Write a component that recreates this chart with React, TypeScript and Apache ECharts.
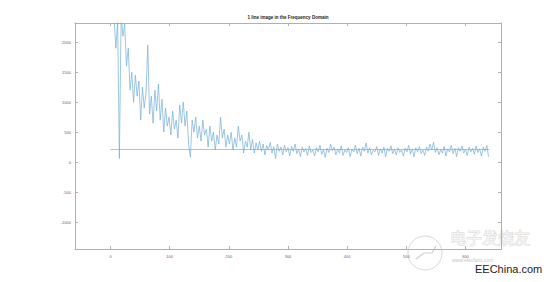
import React, { useEffect, useRef } from "react";
import * as echarts from "echarts";

const TITLE = "1 line image in the Frequency Domain";
const X_TICKS = [0, 100, 200, 300, 400, 500, 600];
const Y_TICKS = [-1000, -500, 0, 500, 1000, 1500, 2000];
const FREQ_START = 6;
const FREQ_STEP = 3;
const magnitude = [
  2400, 1900, 2350, 60, 2450, 2100, 2300, 1600,
  1900, 1200, 1500, 1000, 1450, 1100, 1350, 700, 1250, 900, 1150,
  1950, 800, 1100, 650, 1200, 850, 1300, 700, 1050, 500, 900,
  600, 750, 450, 850, 550, 700, 400, 950, 650, 1000, 600, 850, 300, 80, 700, 500, 750, 400, 600,
  350, 700, 450, 550, 250, 600, 350, 500, 200, 450, 300, 750, 400, 550, 250, 450,
  300, 500, 200, 400, 250, 600, 350, 450, 150, 350, 250, 500, 200, 380, 150, 320,
  200, 350, 180, 300, 120, 280, 200, 330, 150, 260, 60, 300, 180, 250, 120, 280,
  170, 240, 100, 260, 180, 300, 140, 220, 90, 250, 170, 230, 110, 270, 160, 200,
  100, 240, 170, 280, 130, 210, 80, 230, 160, 300, 190, 250, 120, 220, 150, 270,
  110, 200, 160, 240, 90, 210, 170, 280, 140, 230, 100, 250, 180, 320, 150, 240,
  120, 200, 170, 260, 110, 220, 150, 250, 90, 230, 180, 270, 140, 210, 120, 240,
  160, 200, 100, 230, 170, 280, 130, 220, 90, 240, 170, 260, 140, 200, 110, 250,
  180, 300, 200, 330, 160, 240, 120, 210, 150, 260, 100, 220, 170, 280, 140, 230,
  90, 240, 180, 270, 150, 210, 110, 250, 170, 230, 130, 270, 160, 220, 100, 250, 180, 280, 90,
];
const threshold = 210;
const thresholdRange = [0, 640];

const X_MIN = -60;
const X_MAX = 660;
const Y_MIN = -1450;
const Y_MAX = 2320;

export default function App() {
  const ref = useRef<HTMLDivElement>(null);
  useEffect(() => {
    if (!ref.current) return;
    const chart = echarts.init(ref.current, null, { renderer: "svg" });
    const blueData = magnitude.map((v, i) => [FREQ_START + i * FREQ_STEP, v]);
    const redData = thresholdRange.map((x) => [x, threshold]);
    const axisLine = { show: true, onZero: false, lineStyle: { color: "#b0b0b0", width: 1 } };
    const tickStyle = { color: "#b0b0b0", width: 1 };
    const fmt = (v: number) => String(v);
    chart.setOption({
      animation: false,
      backgroundColor: "#ffffff",
      color: ["#f2aa9a", "#72aed8"],
      title: {
        text: TITLE,
        left: 288,
        textAlign: "center",
        top: 15,
        padding: 0,
        textStyle: { fontSize: 4.5, fontWeight: "bold", color: "#222", fontFamily: "Liberation Sans" },
      },
      grid: { left: 75, right: 56, top: 23, bottom: 33, containLabel: false },
      xAxis: [
        {
          type: "value",
          min: X_MIN,
          max: X_MAX,
          position: "bottom",
          axisLine,
          splitLine: { show: false },
          axisTick: { show: true, inside: true, length: 3, lineStyle: tickStyle, customValues: X_TICKS },
          axisLabel: { show: true, fontSize: 4, color: "#666", margin: 5, customValues: X_TICKS, formatter: fmt, fontFamily: "Liberation Sans" },
        },
        {
          type: "value",
          min: X_MIN,
          max: X_MAX,
          position: "top",
          axisLine,
          splitLine: { show: false },
          axisTick: { show: true, inside: true, length: 3, lineStyle: tickStyle, customValues: X_TICKS },
          axisLabel: { show: false },
        },
      ],
      yAxis: [
        {
          type: "value",
          min: Y_MIN,
          max: Y_MAX,
          position: "left",
          axisLine,
          splitLine: { show: false },
          axisTick: { show: true, inside: true, length: 3, lineStyle: tickStyle, customValues: Y_TICKS },
          axisLabel: { show: true, fontSize: 4, color: "#666", margin: 4, customValues: Y_TICKS, formatter: fmt, fontFamily: "Liberation Sans" },
        },
        {
          type: "value",
          min: Y_MIN,
          max: Y_MAX,
          position: "right",
          axisLine,
          splitLine: { show: false },
          axisTick: { show: true, inside: true, length: 3, lineStyle: tickStyle, customValues: Y_TICKS },
          axisLabel: { show: false },
        },
      ],
      series: [
        {
          type: "line",
          name: "threshold",
          data: redData,
          xAxisIndex: 0,
          yAxisIndex: 0,
          symbol: "none",
          lineStyle: { color: "#f2aa9a", width: 1 },
          silent: true,
        },
        {
          type: "line",
          name: "spectrum",
          data: blueData,
          xAxisIndex: 0,
          yAxisIndex: 0,
          symbol: "none",
          clip: true,
          lineStyle: { color: "#72aed8", width: 0.7 },
          silent: true,
        },
      ],
      graphic: [
        {
          type: "circle",
          shape: { cx: 425, cy: 253, r: 17 },
          style: { fill: "rgba(255,255,255,0.6)", stroke: "#d8d8d8", lineWidth: 1 },
        },
        {
          type: "polyline",
          shape: { points: [[416, 259], [424, 253], [432, 253], [436, 246]] },
          style: { stroke: "#cfcfcf", lineWidth: 1.2, fill: "none" },
        },
        {
          type: "text",
          x: 450,
          y: 229,
          style: { text: "电子发烧友", fontSize: 16, fill: "#f4f4f4", stroke: "#c8c8c8", lineWidth: 0.6, fontFamily: "Noto Sans CJK SC" },
        },
        {
          type: "text",
          x: 452,
          y: 257.5,
          style: { text: "www.elecfans.com", fontSize: 5, fill: "#c8c8c8", fontStyle: "italic", fontFamily: "Liberation Sans" },
        },
        {
          type: "text",
          x: 475,
          y: 263.5,
          style: { text: "EEChina.com", fontSize: 11, fill: "#222", fontFamily: "Liberation Sans" },
        },
      ],
    });
    return () => chart.dispose();
  }, []);
  return <div ref={ref} style={{ width: 557, height: 282, margin: -8 }} />;
}
